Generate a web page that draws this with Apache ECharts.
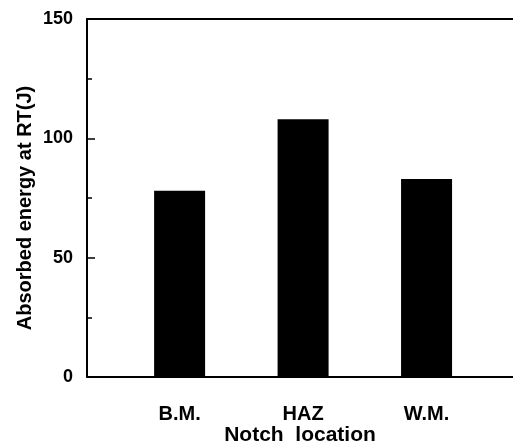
<!DOCTYPE html>
<html>
<head>
<meta charset="utf-8">
<script src="https://cdn.jsdelivr.net/npm/echarts@6/dist/echarts.min.js"></script>
<style>html,body{margin:0;padding:0;background:#fff;}#c{width:513px;height:448px;}</style>
</head>
<body>
<div id="c"></div>
<script>
var categories = ['B.M.', 'HAZ', 'W.M.'];
var positions = [1, 2, 3];
var energy = [78, 108, 83];
var yTicks = [0, 50, 100, 150];

var font = 'Liberation Sans, Arial, sans-serif';
var chart = echarts.init(document.getElementById('c'), null, {renderer: 'canvas'});
chart.setOption({
  animation: false,
  backgroundColor: '#fff',
  grid: {left: 87, right: 0, top: 19, bottom: 71, containLabel: false, outerBoundsMode: 'none'},
  xAxis: [{
    type: 'value', min: 0.25, max: 3.7, interval: 0.25,
    name: 'Notch  location', nameLocation: 'middle', nameGap: 48, nameMoveOverlap: false,
    nameTextStyle: {fontFamily: font, fontSize: 21, fontWeight: 'bold', color: '#000'},
    axisLine: {show: true, lineStyle: {color: '#000', width: 2}},
    axisTick: {show: false},
    splitLine: {show: false},
    axisLabel: {
      margin: 27, fontFamily: font, fontSize: 20, fontWeight: 'bold', color: '#000',
      showMinLabel: true, showMaxLabel: false,
      formatter: function (v) {
        var i = positions.indexOf(Math.round(v * 100) / 100);
        return i >= 0 ? categories[i] : '';
      }
    }
  }, {
    type: 'value', position: 'top', min: 0.25, max: 3.7,
    axisLine: {show: true, onZero: false, lineStyle: {color: '#000', width: 2}},
    axisTick: {show: false}, axisLabel: {show: false}, splitLine: {show: false}
  }],
  yAxis: {
    type: 'value', min: yTicks[0], max: yTicks[yTicks.length - 1], interval: 50,
    name: 'Absorbed energy at RT(J)', nameLocation: 'middle', nameGap: 52, nameMoveOverlap: false,
    nameTextStyle: {fontFamily: font, fontSize: 20, fontWeight: 'bold', color: '#000', padding: [0, 20, 0, 0]},
    axisLine: {show: true, lineStyle: {color: '#000', width: 2}},
    axisTick: {show: true, inside: true, length: 8, lineStyle: {color: '#000', width: 1.5}},
    minorTick: {show: true, splitNumber: 2, length: 5, lineStyle: {color: '#000', width: 1.5}},
    splitLine: {show: false},
    axisLabel: {margin: 14, fontFamily: font, fontSize: 18, fontWeight: 'bold', color: '#000'}
  },
  series: [{
    type: 'bar',
    xAxisIndex: 0,
    barWidth: 51,
    itemStyle: {color: '#000'},
    data: positions.map(function (p, i) { return [p, energy[i]]; })
  }]
});
</script>
</body>
</html>
